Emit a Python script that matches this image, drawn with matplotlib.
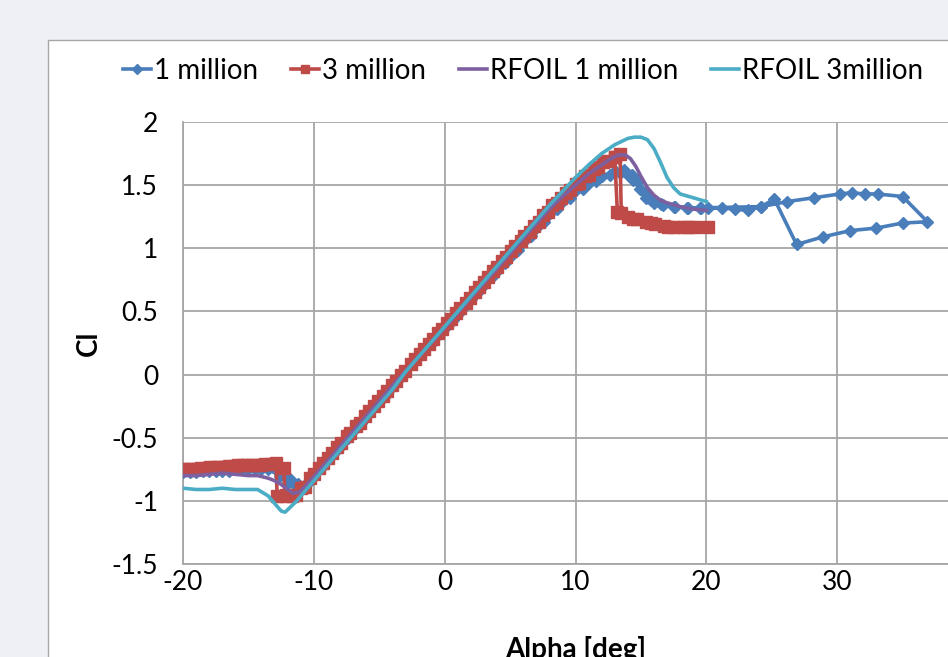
import matplotlib
matplotlib.use("Agg")
import matplotlib.pyplot as plt
from matplotlib.patches import Rectangle

# Lift curves, Cl against angle of attack, measured (up and down sweeps) and RFOIL
alpha_1m = [-20, -19, -18, -17, -16, -15, -14, -13, -12.4, -11.8, -11.2, -10.5, -10,
            -9, -8, -7, -6, -5, -4, -3, -2, -1, 0, 1, 2, 3, 4, 5, 6, 7, 8, 9, 10,
            11, 12, 13, 13.7, 14.3, 14.8, 15.3, 15.8, 16.5, 17.5, 18.5, 19.5, 20.1,
            21.2, 22.2, 23.2, 24.2, 25.2, 26.9, 28.9, 31.0, 33.0, 35.0, 36.9,
            35.0, 33.1, 32.1, 31.1, 30.2, 28.2, 26.2, 24.2, 19.6, 18.6, 17.6, 16.7,
            16.0, 15.4, 14.9, 14.4, 13.9, 13.4, 12.6, 11.6, 10.6, 9.6, 8.6, 7.6, 6.6,
            5.6, 4.6, 3.6, 2.6, 1.6, 0.6, -0.4, -1.4, -2.4, -3.4, -4.4, -5.4, -6.4,
            -7.4, -8.4, -9.4, -10.4, -11.4, -12.0, -12.6, -13.5, -14.5, -15.5, -16.5,
            -17.5, -18.5, -19.5]
cl_1m = [-0.77, -0.77, -0.76, -0.76, -0.75, -0.75, -0.75, -0.74, -0.78, -0.83, -0.87, -0.86, -0.80,
         -0.68, -0.57, -0.45, -0.33, -0.22, -0.10, 0.02, 0.14, 0.25, 0.37, 0.48, 0.60, 0.71, 0.82, 0.93, 1.05, 1.16, 1.27, 1.37, 1.46,
         1.52, 1.57, 1.61, 1.62, 1.58, 1.53, 1.44, 1.38, 1.35, 1.33, 1.32, 1.32, 1.32,
         1.32, 1.31, 1.30, 1.33, 1.39, 1.03, 1.09, 1.14, 1.16, 1.20, 1.21,
         1.41, 1.43, 1.43, 1.44, 1.43, 1.40, 1.37, 1.33, 1.32, 1.32, 1.33, 1.34,
         1.36, 1.40, 1.47, 1.54, 1.59, 1.60, 1.58, 1.53, 1.47, 1.40, 1.31, 1.21, 1.10,
         0.99, 0.88, 0.77, 0.66, 0.55, 0.43, 0.32, 0.21, 0.09, -0.03, -0.15, -0.26, -0.38,
         -0.50, -0.61, -0.73, -0.85, -0.88, -0.86, -0.80, -0.75, -0.75, -0.75, -0.76,
         -0.76, -0.76, -0.77]

alpha_3m = [-20.0, -19.3, -18.6, -17.9, -17.2, -16.5, -15.8, -15.1, -14.4, -13.7, -12.9,
            -12.8, -12.1, -11.4, -10.7, -10.0, -9.3, -8.6, -7.9, -7.2, -6.5, -5.8, -5.1,
            -4.4, -3.7, -3.0, -2.3, -1.6, -0.9, -0.2, 0.5, 1.2, 1.9, 2.6, 3.3, 4.0, 4.7,
            5.4, 6.1, 6.8, 7.5, 8.2, 8.9, 9.6, 10.3, 11.0, 11.7, 12.4, 13.0, 13.4,
            13.5, 14.0, 14.7, 15.4, 16.1, 16.8, 17.5, 18.2, 19.1, 20.1,
            18.6, 17.1, 15.8, 14.4, 13.2, 13.0, 12.1, 11.4, 10.7, 10.0, 9.3, 8.6, 7.9,
            7.2, 6.5, 5.8, 5.1, 4.4, 3.7, 3.0, 2.3, 1.6, 0.9, 0.2, -0.5, -1.2, -1.9,
            -2.6, -3.3, -4.0, -4.7, -5.4, -6.1, -6.8, -7.5, -8.2, -8.9, -9.6, -10.3,
            -11.0, -11.7, -12.2, -12.3, -13.3, -14.0, -14.7, -15.4, -16.1, -16.8,
            -17.5, -18.2, -18.9, -19.6]
cl_3m = [-0.75, -0.745, -0.74, -0.735, -0.73, -0.725, -0.72, -0.72, -0.715, -0.71, -0.70,
         -0.96, -0.95, -0.95, -0.89, -0.79, -0.70, -0.62, -0.54, -0.46, -0.38, -0.29, -0.21,
         -0.13, -0.05, 0.03, 0.12, 0.20, 0.28, 0.36, 0.44, 0.53, 0.61, 0.69, 0.77, 0.85, 0.93,
         1.02, 1.10, 1.18, 1.26, 1.34, 1.40, 1.46, 1.52, 1.58, 1.64, 1.69, 1.72, 1.75,
         1.28, 1.25, 1.23, 1.21, 1.19, 1.18, 1.17, 1.17, 1.17, 1.17,
         1.17, 1.17, 1.20, 1.23, 1.29, 1.72, 1.68, 1.63, 1.57, 1.51, 1.44, 1.36, 1.29,
         1.21, 1.13, 1.06, 0.98, 0.90, 0.82, 0.73, 0.65, 0.57, 0.49, 0.41, 0.33, 0.24, 0.16,
         0.08, 0.00, -0.08, -0.17, -0.25, -0.33, -0.41, -0.49, -0.57, -0.66, -0.74, -0.82,
         -0.90, -0.96, -0.96, -0.74, -0.71, -0.715, -0.72, -0.72, -0.725, -0.73,
         -0.735, -0.74, -0.745, -0.75]

alpha_rf1m = [-20, -19, -18, -17, -16, -15, -14.3, -13.5, -13, -12.5, -12, -11.6, -11.1,
              -10.6, -10, -9, -8, -6, -4, -2, 0, 2, 4, 6, 8, 9, 10, 11, 12, 12.7, 13.3,
              13.8, 14.2, 14.6, 15, 15.5, 16, 16.5, 17, 18, 19, 20]
cl_rf1m = [-0.80, -0.80, -0.79, -0.78, -0.79, -0.80, -0.80, -0.82, -0.84, -0.87, -0.91, -0.94, -0.93,
           -0.88, -0.81, -0.69, -0.57, -0.33, -0.09, 0.14, 0.37, 0.61, 0.84, 1.08, 1.31, 1.41, 1.50, 1.59, 1.66, 1.71, 1.74,
           1.74, 1.71, 1.65, 1.57, 1.48, 1.42, 1.38, 1.36, 1.33, 1.31, 1.30]

alpha_rf3m = [-20, -19, -18, -17, -16, -15, -14.3, -13.5, -13, -12.5, -12.2, -11.8, -11.3,
              -10.9, -10.4, -9.9, -9, -8, -7, -6, -5, -4, -3, -2, -1, 0, 1, 2, 3, 4, 5, 6,
              7, 8, 9, 10, 11, 12, 13, 14, 14.5, 15, 15.5, 16, 16.5, 17, 17.5, 18, 19, 20]
cl_rf3m = [-0.90, -0.91, -0.91, -0.90, -0.91, -0.91, -0.91, -0.96, -1.02, -1.08, -1.09, -1.05, -1.00,
           -0.95, -0.89, -0.83, -0.72, -0.60, -0.48, -0.36, -0.24, -0.12, 0.02, 0.14, 0.26, 0.38, 0.50, 0.62,
           0.74, 0.86, 0.98, 1.10, 1.22, 1.34, 1.45, 1.56, 1.66, 1.75, 1.82, 1.87, 1.88, 1.88, 1.86, 1.79,
           1.68, 1.56, 1.48, 1.43, 1.40, 1.37]

x_ticks = [-20, -10, 0, 10, 20, 30]
x_grid = [40]
y_ticks = [-1.5, -1, -0.5, 0, 0.5, 1, 1.5, 2]

plt.rcParams['font.family'] = ['Lato', 'DejaVu Sans']
W, H = 948, 657
fig = plt.figure(figsize=(W / 100, H / 100), dpi=100)
fig.patch.set_facecolor('#eef0f5')

# white chart area, runs off the right and bottom edge
fig.patches.append(Rectangle((48 / W, -0.1), 1.0, (H - 40) / H + 0.1,
                             transform=fig.transFigure, facecolor='white',
                             edgecolor='#a6a6a6', linewidth=1.0, zorder=-5))

# plot area in pixel terms: x -20..40 -> 183..968, y -1.5..2 -> 564..122
ax = fig.add_axes([183 / W, (H - 564) / H, (968 - 183) / W, (564 - 122) / H])
ax.set_zorder(1)
ax.set_facecolor('white')

ax.plot(alpha_1m, cl_1m, color='#4a7ebb', lw=2.6, marker='D', ms=6.5,
        label='1 million', zorder=3)
ax.plot(alpha_3m, cl_3m, color='#be4b48', lw=2.6, marker='s', ms=8,
        label='3 million', zorder=4)
ax.plot(alpha_rf1m, cl_rf1m, color='#7d60a0', lw=2.6, label='RFOIL 1 million', zorder=5)
ax.plot(alpha_rf3m, cl_rf3m, color='#4bacc6', lw=2.6, label='RFOIL 3million', zorder=6)

ax.set_xlim(-20, 40)
ax.set_ylim(-1.5, 2)
ax.set_xticks(x_ticks)
ax.set_yticks(y_ticks)
ax.set_xticklabels(['-20', '-10', '0', '10', '20', '30'])
ax.set_yticklabels(['-1.5', '-1', '-0.5', '0', '0.5', '1', '1.5', '2'])
ax.tick_params(axis='both', length=0, labelsize=19)
ax.tick_params(axis='y', pad=18)
ax.tick_params(axis='x', pad=4)
ax.grid(True, color='#a6a6a6', lw=1.3)
for g in x_grid:
    ax.axvline(g, color='#a6a6a6', lw=1.3, zorder=0)
ax.set_axisbelow(True)
for side in ['top', 'right']:
    ax.spines[side].set_visible(False)
for side in ['left', 'bottom']:
    ax.spines[side].set_color('#a6a6a6')
    ax.spines[side].set_linewidth(1.3)

ax.set_ylabel('Cl', fontsize=20, fontweight='bold', labelpad=7)
ax.set_xlabel('Alpha [deg]', fontsize=20, fontweight='bold', labelpad=30)

fig.legend(loc='center', bbox_to_anchor=(523 / W, 1 - 71 / H), ncol=4,
           frameon=False, fontsize=20, handlelength=1.0, handletextpad=0.1,
           columnspacing=1.2, markerscale=0.8)

plt.savefig('out.png', dpi=100, facecolor=fig.get_facecolor())
